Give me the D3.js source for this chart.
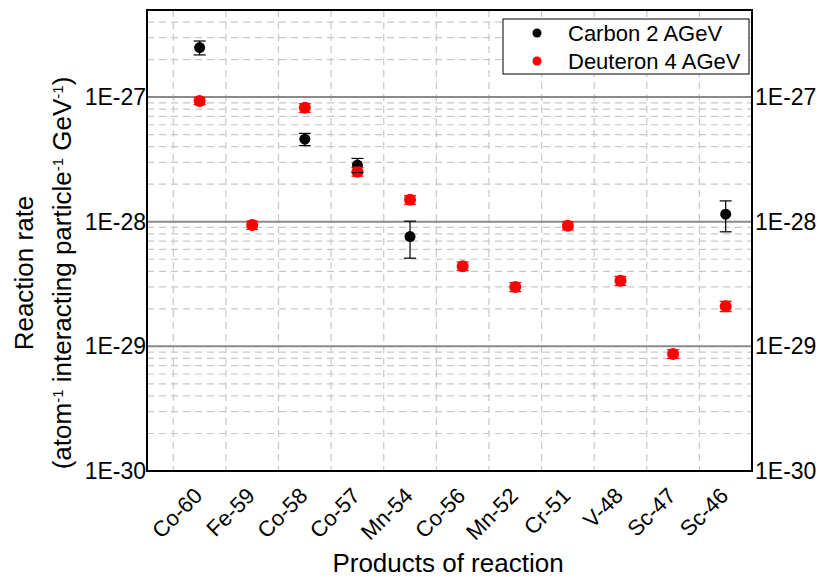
<!DOCTYPE html>
<html>
<head>
<meta charset="utf-8">
<script src="https://cdn.jsdelivr.net/npm/d3@7"></script>
<style>
  body { margin: 0; background: #fff; }
  svg { font-family: "Liberation Sans", Arial, sans-serif; display: block; }
</style>
</head>
<body>
<svg width="823" height="579"></svg>
<script>
// Products of the reaction (x categories)
const products = ["Co-60", "Fe-59", "Co-58", "Co-57", "Mn-54", "Co-56", "Mn-52", "Cr-51", "V-48", "Sc-47", "Sc-46"];

// Carbon 2 AGeV (null = not measured)
const carbonValues = [2.5e-27, null, 4.6e-28, 2.85e-28, 7.6e-29, null, null, null, null, null, 1.15e-28];
const carbonErrors = [3.2e-28, null, 5.2e-29, 3.7e-29, 2.5e-29, null, null, null, null, null, 3.2e-29];

// Deuteron 4 AGeV
const deuteronValues = [9.3e-28, 9.4e-29, 8.2e-28, 2.52e-28, 1.5e-28, 4.4e-29, 3.0e-29, 9.3e-29, 3.36e-29, 8.7e-30, 2.1e-29];
const deuteronErrors = [6e-29, 7e-30, 6.5e-29, 2e-29, 1.2e-29, 3.5e-30, 2.5e-30, 7e-30, 2.8e-30, 7e-31, 2e-30];

// y tick labels (decades)
const yTicks = [1e-30, 1e-29, 1e-28, 1e-27];
const yTickLabels = ["1E-30", "1E-29", "1E-28", "1E-27"];

const seriesNames = ["Carbon 2 AGeV", "Deuteron 4 AGeV"];
const seriesColors = ["#000000", "#ff0000"];

const svg = d3.select("svg");
const margin = { top: 10, right: 71, bottom: 108, left: 147 };
const width = 823 - margin.left - margin.right,
      height = 579 - margin.top - margin.bottom;

const g = svg.append("g").attr("transform", `translate(${margin.left},${margin.top})`);

// scales: categories sit at integer positions, half a slot of room on the right
const x = d3.scaleLinear().domain([-1, products.length - 0.5]).range([0, width]);
const y = d3.scaleLog().domain([1e-30, 5e-27]).range([height, 0]);

// minor horizontal grid (2..9 in each decade)
const minor = [];
for (let e = -30; e <= -27; e++) {
    for (let m = 2; m <= 9; m++) {
        const v = m * Math.pow(10, e);
        if (v <= 5e-27) minor.push(v);
    }
}
g.selectAll(".minor-h")
    .data(minor)
    .enter().append("line")
    .attr("class", "minor-h")
    .attr("x1", 0).attr("x2", width)
    .attr("y1", d => y(d)).attr("y2", d => y(d))
    .attr("stroke", "#c8c8c8")
    .attr("stroke-width", 1.2)
    .attr("stroke-dasharray", "7,5");

// vertical grid between categories
const vGrid = d3.range(-0.5, products.length - 0.5, 1);
g.selectAll(".minor-v")
    .data(vGrid)
    .enter().append("line")
    .attr("class", "minor-v")
    .attr("x1", d => x(d)).attr("x2", d => x(d))
    .attr("y1", 0).attr("y2", height)
    .attr("stroke", "#c8c8c8")
    .attr("stroke-width", 1.2)
    .attr("stroke-dasharray", "7,5");

// major horizontal lines at decades
g.selectAll(".major-h")
    .data(yTicks.slice(1))
    .enter().append("line")
    .attr("class", "major-h")
    .attr("x1", 0).attr("x2", width)
    .attr("y1", d => y(d)).attr("y2", d => y(d))
    .attr("stroke", "#8a8a8a")
    .attr("stroke-width", 2);

// axes (labels only)
const yLeft = d3.axisLeft(y).tickValues(yTicks).tickSize(0).tickPadding(1)
    .tickFormat((d, i) => yTickLabels[i]);
const yRight = d3.axisRight(y).tickValues(yTicks).tickSize(0).tickPadding(3)
    .tickFormat((d, i) => yTickLabels[i]);

const axL = g.append("g").call(yLeft);
const axR = g.append("g").attr("transform", `translate(${width},0)`).call(yRight);
[axL, axR].forEach(a => {
    a.select(".domain").remove();
    a.selectAll("text").attr("font-size", 23).attr("fill", "#000")
        .attr("font-family", "Liberation Sans, Arial, sans-serif");
});

const xAxis = d3.axisBottom(x).tickValues(d3.range(products.length)).tickSize(0)
    .tickFormat(i => products[i]);
const axX = g.append("g").attr("transform", `translate(0,${height})`).call(xAxis);
axX.select(".domain").remove();
axX.selectAll("text")
    .attr("font-size", 22)
    .attr("fill", "#000")
    .attr("font-family", "Liberation Sans, Arial, sans-serif")
    .attr("x", -16)
    .attr("y", 21)
    .attr("dy", 0)
    .attr("transform", "rotate(-45)")
    .style("text-anchor", "end");

// plot frame
g.append("rect")
    .attr("width", width).attr("height", height)
    .attr("fill", "none")
    .attr("stroke", "#000")
    .attr("stroke-width", 2);

// series data
const series = [
    products.map((p, i) => ({ i, v: carbonValues[i], e: carbonErrors[i] })).filter(d => d.v != null),
    products.map((p, i) => ({ i, v: deuteronValues[i], e: deuteronErrors[i] }))
];

// points: carbon first, deuteron on top
series.forEach((s, k) => {
    g.selectAll(".pt" + k)
        .data(s)
        .enter().append("circle")
        .attr("class", "pt" + k)
        .attr("cx", d => x(d.i))
        .attr("cy", d => y(d.v))
        .attr("r", k === 0 ? 5.5 : 6)
        .attr("fill", seriesColors[k]);
});

// error bars drawn last
series.forEach((s, k) => {
    const eb = g.selectAll(".eb" + k)
        .data(s)
        .enter().append("g")
        .attr("class", "eb" + k)
        .attr("stroke", seriesColors[k])
        .attr("stroke-width", 1.2);
    eb.append("line")
        .attr("x1", d => x(d.i)).attr("x2", d => x(d.i))
        .attr("y1", d => y(d.v + d.e)).attr("y2", d => y(d.v - d.e));
    eb.append("line")
        .attr("x1", d => x(d.i) - 6).attr("x2", d => x(d.i) + 6)
        .attr("y1", d => y(d.v + d.e)).attr("y2", d => y(d.v + d.e));
    eb.append("line")
        .attr("x1", d => x(d.i) - 6).attr("x2", d => x(d.i) + 6)
        .attr("y1", d => y(d.v - d.e)).attr("y2", d => y(d.v - d.e));
});

// legend
const legend = svg.append("g").attr("transform", "translate(503,19)");
legend.append("rect")
    .attr("width", 246).attr("height", 55)
    .attr("fill", "#fff")
    .attr("stroke", "#000")
    .attr("stroke-width", 1);
seriesNames.forEach((name, k) => {
    legend.append("circle")
        .attr("cx", 34).attr("cy", 14 + k * 28)
        .attr("r", 4.5)
        .attr("fill", seriesColors[k]);
    legend.append("text")
        .attr("x", 65).attr("y", 14 + k * 28)
        .attr("dy", "0.36em")
        .attr("font-size", 22)
        .text(name);
});

// x axis title
svg.append("text")
    .attr("x", 448).attr("y", 572)
    .attr("text-anchor", "middle")
    .attr("font-size", 26)
    .text("Products of reaction");

// y axis title, two lines with superscripts
const cy = 273;
svg.append("text")
    .attr("transform", `translate(33,${cy}) rotate(-90)`)
    .attr("text-anchor", "middle")
    .attr("font-size", 26)
    .text("Reaction rate");

const yt2 = svg.append("text")
    .attr("transform", `translate(71,${cy}) rotate(-90)`)
    .attr("text-anchor", "middle")
    .attr("font-size", 26);
const parts = [["(atom", false], ["-1", true], [" interacting particle", false], ["-1", true], [" GeV", false], ["-1", true], [")", false]];
parts.forEach(([t, sup]) => {
    const ts = yt2.append("tspan").text(t);
    if (sup) ts.attr("font-size", 15).attr("baseline-shift", "super");
});
</script>
</body>
</html>
